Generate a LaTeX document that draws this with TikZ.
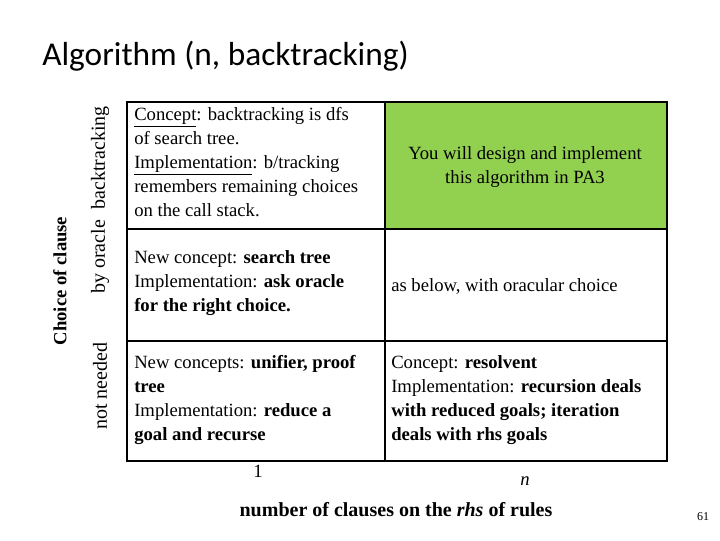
\documentclass[tikz,border=0pt]{standalone}
\usepackage{fontspec}
\setmainfont{Liberation Serif}
\newfontfamily\titlefont{Carlito}
\begin{document}
\begin{tikzpicture}[x=0.75pt,y=-0.75pt,
  cell/.style={anchor=north west,align=left,inner sep=0pt,font=\fontsize{14}{18}\selectfont},
  side/.style={rotate=90,font=\fontsize{15}{15}\selectfont,inner sep=0pt},
  grid/.style={line width=1.2pt}]
\useasboundingbox (0,0) rectangle (720,540);
\fill[fill={rgb,255:red,146;green,208;blue,80}] (385,102) rectangle (667,229);
\draw[grid] (127,102) rectangle (667,461);
\draw[grid] (385,102) -- (385,461);
\draw[grid] (127,229) -- (667,229);
\draw[grid] (127,341) -- (667,341);
\node[anchor=west,inner sep=0pt,font=\titlefont\fontsize{25}{28}\selectfont] (title) at (42,56) {Algorithm (n, backtracking)};
\node[side] (s1) at (100,158) {backtracking};
\node[side] (s2) at (100,257) {by oracle};
\node[side] (s3) at (100,386) {not needed};
\node[side,font=\bfseries\fontsize{14}{15}\selectfont] (choice) at (60,281) {Choice of clause};
\node[cell] (c11) at (134,107) {\underline{Concept}: backtracking is dfs\\of search tree.\\\underline{Implementation}: b/tracking\\remembers remaining choices\\on the call stack.};
\node[align=center,font=\fontsize{14}{18}\selectfont] (c12) at (525,167) {You will design and implement\\this algorithm in PA3};
\node[cell] (c21) at (134,250) {New concept: \textbf{search tree}\\Implementation: \textbf{ask oracle}\\\textbf{for the right choice.}};
\node[cell,anchor=west] (c22) at (391,286) {as below, with oracular choice};
\node[cell] (c31) at (134,355) {New concepts: \textbf{unifier, proof}\\\textbf{tree}\\Implementation: \textbf{reduce a}\\\textbf{goal and recurse}};
\node[cell] (c32) at (391,355) {Concept: \textbf{resolvent}\\Implementation: \textbf{recursion deals}\\\textbf{with reduced goals; iteration}\\\textbf{deals with rhs goals}};
\node[font=\fontsize{14}{15}\selectfont] (one) at (258,471) {1};
\node[font=\itshape\fontsize{14}{15}\selectfont] (n) at (525,481) {n};
\node[font=\bfseries\fontsize{15}{15}\selectfont] (xl) at (396,510) {number of clauses on the \textit{rhs} of rules};
\node[font=\fontsize{9}{11}\selectfont] (pg) at (703,517) {61};
\end{tikzpicture}
\end{document}
